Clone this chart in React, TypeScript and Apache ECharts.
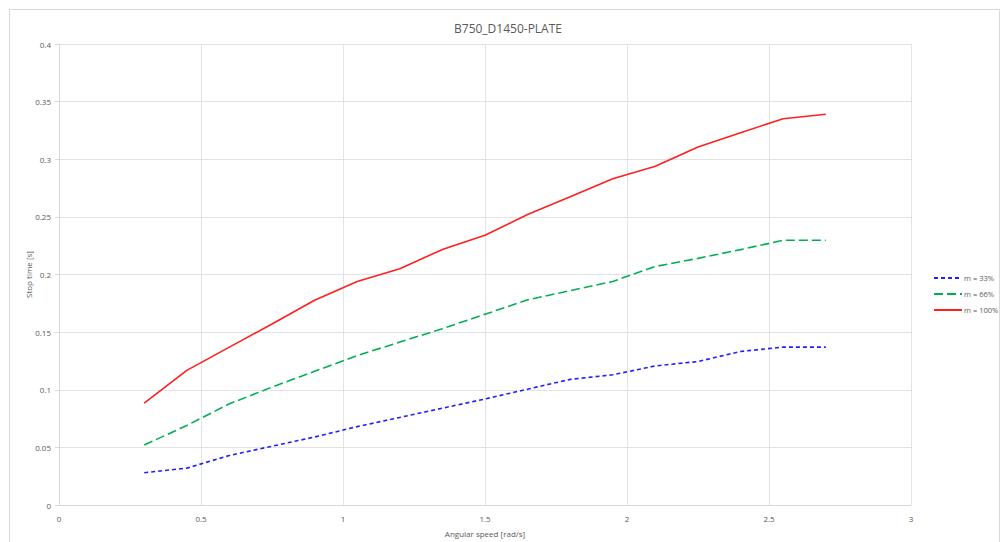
import React, { useEffect, useRef } from "react";
import * as echarts from "echarts";

const speeds = [0.3, 0.45, 0.6, 0.75, 0.9, 1.05, 1.2, 1.35, 1.5, 1.65, 1.8, 1.95, 2.1, 2.25, 2.4, 2.55, 2.7];
const m33 = [0.028, 0.032, 0.043, 0.051, 0.059, 0.068, 0.076, 0.084, 0.092, 0.1005, 0.109, 0.113, 0.1207, 0.1245, 0.1332, 0.137, 0.137];
const m66 = [0.052, 0.069, 0.0878, 0.1023, 0.116, 0.1296, 0.1414, 0.153, 0.1655, 0.178, 0.186, 0.194, 0.207, 0.214, 0.2216, 0.2297, 0.2297];
const m100 = [0.0884, 0.1168, 0.137, 0.157, 0.1777, 0.194, 0.205, 0.2217, 0.234, 0.252, 0.2674, 0.283, 0.294, 0.3106, 0.323, 0.3352, 0.339];
const seriesNames = ["m = 33%", "m = 66%", "m = 100%"];

const pairs = (ys: number[]) => speeds.map((x, i) => [x, ys[i]]);

export default function App() {
  const ref = useRef<HTMLDivElement>(null);
  useEffect(() => {
    if (!ref.current) return;
    const chart = echarts.init(ref.current, undefined, { renderer: "svg" });
    const font = "'Open Sans', sans-serif";
    const grey = "#595959";
    chart.setOption({
      animation: false,
      backgroundColor: "#ffffff",
      textStyle: { fontFamily: font },
      title: {
        text: "B750_D1450-PLATE",
        left: 503,
        top: 17,
        textAlign: "center",
        textStyle: { fontSize: 12, fontWeight: "normal", color: grey, fontFamily: font },
      },
      graphic: [
        {
          type: "rect",
          shape: { x: 9.5, y: 9.5, width: 990, height: 560 },
          style: { fill: "none", stroke: "#d9d9d9", lineWidth: 1 },
          silent: true,
        },
      ],
      legend: {
        orient: "vertical",
        left: 928,
        top: 269,
        itemWidth: 28,
        itemHeight: 8,
        itemGap: 8,
        itemStyle: { opacity: 0 },
        textStyle: { fontSize: 7.5, color: grey, fontFamily: font, padding: [0, 0, 0, -3] },
        data: seriesNames,
      },
      grid: { left: 59, right: 89, top: 44, bottom: 37, containLabel: false },
      xAxis: {
        type: "value",
        min: 0,
        max: 3,
        interval: 0.5,
        name: "Angular speed [rad/s]",
        nameLocation: "middle",
        nameGap: 24,
        nameMoveOverlap: false,
        nameTextStyle: { fontSize: 8, color: grey },
        axisLine: { show: true, lineStyle: { color: "#d9d9d9" } },
        axisTick: { show: false },
        axisLabel: { fontSize: 8, color: grey, margin: 9 },
        splitLine: { show: true, lineStyle: { color: "#e3e3e3" } },
      },
      yAxis: {
        type: "value",
        min: 0,
        max: 0.4,
        interval: 0.05,
        name: "Stop time [s]",
        nameLocation: "middle",
        nameGap: 27,
        nameMoveOverlap: false,
        nameTextStyle: { fontSize: 8, color: grey },
        axisLine: { show: true, lineStyle: { color: "#d9d9d9" } },
        axisTick: { show: true, length: 4, lineStyle: { color: "#d9d9d9" } },
        axisLabel: { fontSize: 8, color: grey, margin: 8 },
        splitLine: { show: true, lineStyle: { color: "#e3e3e3" } },
      },
      series: [
        {
          name: seriesNames[0],
          type: "line",
          data: pairs(m33),
          symbol: "none",
          lineStyle: { color: "#1f1fff", width: 1.6, type: [4, 3] },
          itemStyle: { color: "#1f1fff" },
        },
        {
          name: seriesNames[1],
          type: "line",
          data: pairs(m66),
          symbol: "none",
          lineStyle: { color: "#00b050", width: 1.6, type: [9, 4] },
          itemStyle: { color: "#00b050" },
        },
        {
          name: seriesNames[2],
          type: "line",
          data: pairs(m100),
          symbol: "none",
          lineStyle: { color: "#ff1f1f", width: 1.6, type: "solid" },
          itemStyle: { color: "#ff1f1f" },
        },
      ],
    });
    return () => chart.dispose();
  }, []);
  return <div ref={ref} style={{ position: "fixed", left: 0, top: 0, width: 1000, height: 542 }} />;
}
